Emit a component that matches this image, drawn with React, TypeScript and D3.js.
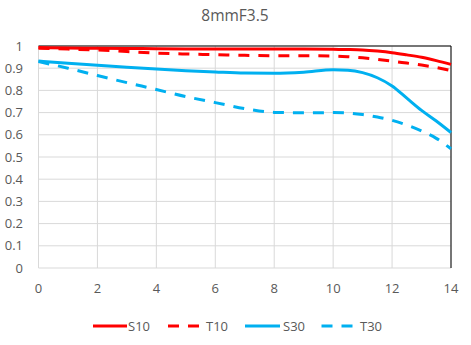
import React from "react";
import * as d3 from "d3";

const xValues = [0, 1, 2, 3, 4, 5, 6, 7, 8, 9, 10, 10.5, 11, 11.5, 12, 12.5, 13, 13.5, 14];
const s10 = [0.993, 0.991, 0.99, 0.989, 0.988, 0.987, 0.986, 0.986, 0.986, 0.986, 0.985, 0.984, 0.982, 0.977, 0.97, 0.96, 0.949, 0.934, 0.917];
const t10 = [0.99, 0.986, 0.982, 0.975, 0.968, 0.964, 0.961, 0.958, 0.956, 0.956, 0.955, 0.952, 0.947, 0.94, 0.932, 0.923, 0.914, 0.903, 0.889];
const s30 = [0.932, 0.922, 0.913, 0.904, 0.896, 0.889, 0.883, 0.878, 0.877, 0.882, 0.893, 0.891, 0.88, 0.857, 0.82, 0.765, 0.71, 0.662, 0.61];
const t30 = [0.93, 0.9, 0.867, 0.835, 0.804, 0.772, 0.745, 0.718, 0.701, 0.699, 0.7, 0.698, 0.691, 0.68, 0.665, 0.644, 0.617, 0.584, 0.537];

const seriesNames = ["S10", "T10", "S30", "T30"];
const seriesData = [s10, t10, s30, t30];
const seriesColors = ["#ff0000", "#ff0000", "#00b0f0", "#00b0f0"];
const seriesDashed = [false, true, false, true];

const xTicks = [0, 2, 4, 6, 8, 10, 12, 14];
const yTicks = [0, 0.1, 0.2, 0.3, 0.4, 0.5, 0.6, 0.7, 0.8, 0.9, 1];
const title = "8mmF3.5";

const W = 471;
const H = 345;
const left = 38.5;
const right = 451;
const top = 46;
const bottom = 268;
const font = "'Open Sans', 'Segoe UI', sans-serif";
const textColor = "#595959";

export default function App() {
  const x = d3.scaleLinear().domain([0, 14]).range([left, right]);
  const y = d3.scaleLinear().domain([0, 1]).range([bottom, top]);
  const line = d3
    .line<number>()
    .x((_, i) => x(xValues[i]))
    .y((d) => y(d))
    .curve(d3.curveMonotoneX);

  const legendItems = [
    { x1: 93, x2: 127, tx: 128 },
    { x1: 168, x2: 200, tx: 206 },
    { x1: 245, x2: 280, tx: 283 },
    { x1: 321.5, x2: 354, tx: 360 },
  ];

  return (
    <svg
      width={W}
      height={H}
      style={{ position: "absolute", left: 0, top: 0, background: "#fff" }}
    >
      <rect x={0} y={0} width={W} height={H} fill="#fff" />
      <text x={235} y={21} textAnchor="middle" fontFamily={font} fontSize={15.5} fill={textColor}>
        {title}
      </text>
      {yTicks.map((t) => (
        <line key={"gy" + t} x1={left} x2={right} y1={y(t)} y2={y(t)} stroke="#d9d9d9" strokeWidth={1} />
      ))}
      {xTicks.map((t) => (
        <line key={"gx" + t} x1={x(t)} x2={x(t)} y1={top} y2={bottom} stroke="#d9d9d9" strokeWidth={1} />
      ))}
      <line x1={left} x2={right} y1={top} y2={top} stroke="#000" strokeWidth={1} />
      <line x1={right} x2={right} y1={top} y2={bottom} stroke="#000" strokeWidth={1} />
      {yTicks.map((t) => (
        <text
          key={"ly" + t}
          x={23}
          y={y(t) + 4.5}
          textAnchor="end"
          fontFamily={font}
          fontSize={13}
          fill={textColor}
        >
          {d3.format("~g")(t)}
        </text>
      ))}
      {xTicks.map((t) => (
        <text
          key={"lx" + t}
          x={x(t)}
          y={293}
          textAnchor="middle"
          fontFamily={font}
          fontSize={13}
          fill={textColor}
        >
          {t}
        </text>
      ))}
      {seriesData.map((d, i) => (
        <path
          key={"s" + i}
          d={line(d) || ""}
          fill="none"
          stroke={seriesColors[i]}
          strokeWidth={3}
          strokeDasharray={seriesDashed[i] ? "11,9" : undefined}
        />
      ))}
      {legendItems.map((it, i) => (
        <g key={"lg" + i}>
          <line
            x1={it.x1}
            x2={it.x2}
            y1={326}
            y2={326}
            stroke={seriesColors[i]}
            strokeWidth={3}
            strokeDasharray={seriesDashed[i] ? "11,9" : undefined}
          />
          <text x={it.tx} y={330.5} fontFamily={font} fontSize={13} fill={textColor}>
            {seriesNames[i]}
          </text>
        </g>
      ))}
    </svg>
  );
}
